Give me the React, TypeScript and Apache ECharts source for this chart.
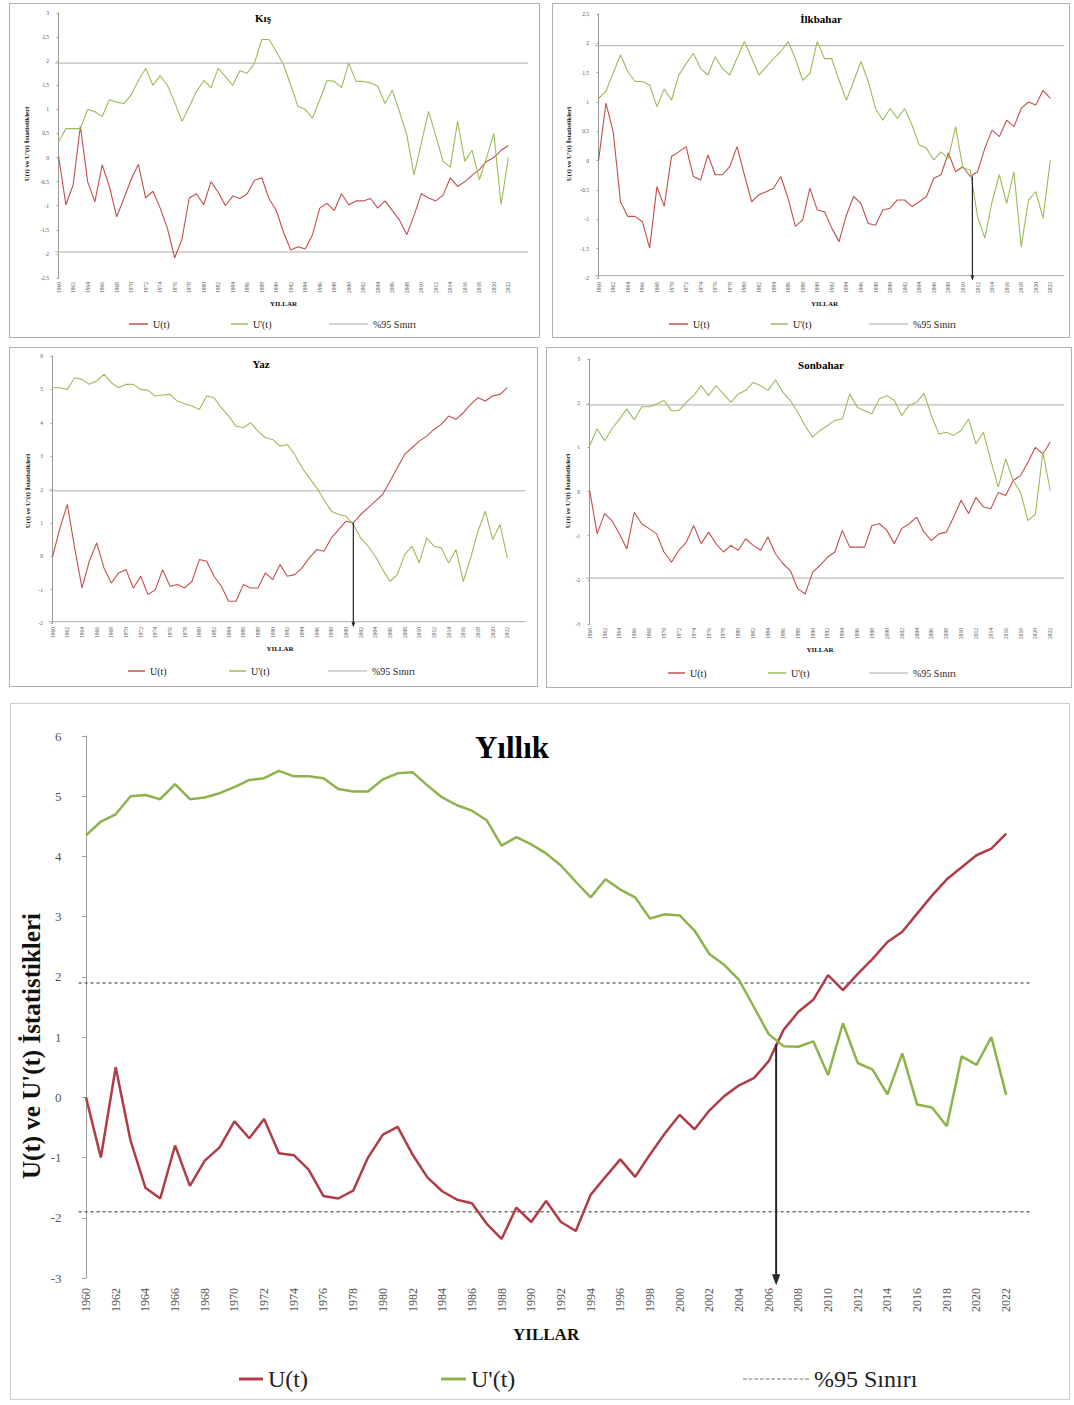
import React, { useEffect, useRef } from "react";
import * as echarts from "echarts";

const SERIF = "'Liberation Serif', 'Times New Roman', serif";

const YEARS = [
  "1960", "1961", "1962", "1963", "1964", "1965", "1966", "1967", "1968", "1969",
  "1970", "1971", "1972", "1973", "1974", "1975", "1976", "1977", "1978", "1979",
  "1980", "1981", "1982", "1983", "1984", "1985", "1986", "1987", "1988", "1989",
  "1990", "1991", "1992", "1993", "1994", "1995", "1996", "1997", "1998", "1999",
  "2000", "2001", "2002", "2003", "2004", "2005", "2006", "2007", "2008", "2009",
  "2010", "2011", "2012", "2013", "2014", "2015", "2016", "2017", "2018", "2019",
  "2020", "2021", "2022",
];

// Kış (winter)
const KIS_U = [
  0.02, -0.98, -0.57, 0.65, -0.5, -0.92, -0.15, -0.6, -1.23, -0.85,
  -0.45, -0.14, -0.84, -0.7, -1.05, -1.47, -2.08, -1.7, -0.84, -0.75,
  -0.98, -0.5, -0.72, -1.0, -0.8, -0.85, -0.75, -0.47, -0.42, -0.85,
  -1.1, -1.55, -1.92, -1.85, -1.9, -1.6, -1.05, -0.95, -1.1, -0.75,
  -0.98, -0.9, -0.9, -0.85, -1.05, -0.9, -1.1, -1.3, -1.6, -1.2,
  -0.75, -0.84, -0.9, -0.78, -0.42, -0.6, -0.5, -0.37, -0.25, -0.08,
  0.0, 0.15, 0.25,
];
const KIS_UP = [
  0.33, 0.6, 0.6, 0.6, 1.0, 0.95, 0.85, 1.2, 1.15, 1.12,
  1.3, 1.6, 1.85, 1.5, 1.7, 1.5, 1.15, 0.75, 1.05, 1.37,
  1.6, 1.45, 1.85, 1.68, 1.5, 1.8, 1.75, 1.96, 2.45, 2.45,
  2.2, 1.93, 1.5, 1.06, 1.0, 0.82, 1.2, 1.6, 1.58, 1.45,
  1.96, 1.58, 1.58, 1.55, 1.48, 1.12, 1.4, 0.95, 0.47, -0.36,
  0.3, 0.96, 0.45, -0.08, -0.2, 0.75, -0.08, 0.15, -0.46, 0.0,
  0.5, -0.98, 0.0,
];

// İlkbahar (spring)
const ILK_U = [
  0.01, 0.98, 0.49, -0.7, -0.95, -0.95, -1.04, -1.49, -0.44, -0.78,
  0.07, 0.15, 0.24, -0.27, -0.33, 0.1, -0.24, -0.24, -0.1, 0.24,
  -0.24, -0.7, -0.58, -0.53, -0.47, -0.27, -0.64, -1.12, -1.01, -0.47,
  -0.84, -0.87, -1.15, -1.38, -0.93, -0.61, -0.73, -1.07, -1.1, -0.84,
  -0.81, -0.67, -0.67, -0.78, -0.7, -0.61, -0.3, -0.24, 0.13, -0.19,
  -0.1, -0.27, -0.19, 0.21, 0.52, 0.41, 0.69, 0.58, 0.89, 1.0,
  0.95, 1.2, 1.06,
];
const ILK_UP = [
  1.06, 1.18, 1.5, 1.8, 1.52, 1.35, 1.35, 1.29, 0.92, 1.22,
  1.03, 1.46, 1.65, 1.83, 1.57, 1.46, 1.77, 1.57, 1.46, 1.75,
  2.03, 1.75, 1.46, 1.6, 1.74, 1.86, 2.03, 1.74, 1.37, 1.49,
  2.03, 1.74, 1.74, 1.37, 1.03, 1.35, 1.69, 1.35, 0.89, 0.69,
  0.89, 0.72, 0.89, 0.61, 0.27, 0.21, 0.01, 0.15, 0.04, 0.58,
  -0.13, -0.16, -0.95, -1.32, -0.7, -0.24, -0.73, -0.19, -1.47, -0.67,
  -0.53, -0.98, 0.01,
];

// Yaz (summer)
const YAZ_U = [
  0.0, 0.85, 1.55, 0.25, -0.95, -0.15, 0.4, -0.35, -0.8, -0.5,
  -0.4, -0.95, -0.6, -1.15, -1.0, -0.4, -0.9, -0.85, -0.95, -0.75,
  -0.1, -0.15, -0.6, -0.9, -1.35, -1.35, -0.85, -0.95, -0.95, -0.5,
  -0.7, -0.25, -0.6, -0.55, -0.35, -0.05, 0.2, 0.15, 0.55, 0.8,
  1.05, 1.0, 1.25, 1.45, 1.65, 1.85, 2.25, 2.65, 3.05, 3.25,
  3.45, 3.6, 3.8, 3.95, 4.2, 4.1, 4.3, 4.55, 4.75, 4.65,
  4.8, 4.85, 5.05,
];
const YAZ_UP = [
  5.05, 5.05, 5.0, 5.35, 5.3, 5.15, 5.25, 5.45, 5.2, 5.05,
  5.15, 5.15, 5.0, 4.97, 4.8, 4.83, 4.85, 4.65, 4.57, 4.5,
  4.4, 4.8, 4.75, 4.45, 4.2, 3.9, 3.85, 4.0, 3.75, 3.55,
  3.5, 3.3, 3.35, 3.05, 2.65, 2.35, 2.05, 1.7, 1.35, 1.25,
  1.2, 0.95, 0.55, 0.3, 0.0, -0.4, -0.75, -0.55, 0.05, 0.3,
  -0.2, 0.55, 0.3, 0.25, -0.2, 0.2, -0.75, -0.05, 0.75, 1.35,
  0.5, 0.95, -0.05,
];

// Sonbahar (autumn)
const SON_U = [
  0.02, -0.96, -0.5, -0.66, -0.96, -1.3, -0.47, -0.73, -0.84, -0.96,
  -1.37, -1.6, -1.33, -1.15, -0.77, -1.18, -0.92, -1.18, -1.37, -1.22,
  -1.33, -1.07, -1.22, -1.33, -1.03, -1.41, -1.63, -1.79, -2.2, -2.32,
  -1.83, -1.67, -1.49, -1.37, -0.88, -1.26, -1.26, -1.26, -0.77, -0.73,
  -0.88, -1.18, -0.84, -0.73, -0.58, -0.92, -1.11, -0.96, -0.92, -0.58,
  -0.2, -0.5, -0.13, -0.35, -0.39, -0.02, -0.09, 0.25, 0.36, 0.66,
  1.0, 0.85, 1.12,
];
const SON_UP = [
  1.04, 1.42, 1.15, 1.42, 1.64, 1.87, 1.62, 1.92, 1.92, 1.98,
  2.06, 1.83, 1.83, 2.02, 2.17, 2.4, 2.17, 2.4, 2.21, 2.02,
  2.21, 2.29, 2.47, 2.4, 2.29, 2.53, 2.25, 2.06, 1.8, 1.49,
  1.23, 1.38, 1.49, 1.61, 1.64, 2.21, 1.91, 1.83, 1.76, 2.1,
  2.17, 2.06, 1.72, 1.95, 2.02, 2.22, 1.72, 1.3, 1.34, 1.27,
  1.38, 1.64, 1.08, 1.34, 0.7, 0.1, 0.74, 0.25, -0.02, -0.66,
  -0.51, 0.89, 0.02,
];

// Yıllık (annual)
const ANNUAL_U = [
  0.0, -1.0, 0.5, -0.72, -1.5, -1.68, -0.8, -1.47, -1.05, -0.83,
  -0.4, -0.68, -0.36, -0.93, -0.96, -1.2, -1.64, -1.68, -1.55, -1.0,
  -0.62, -0.49, -0.95, -1.33, -1.56, -1.7, -1.76, -2.1, -2.35, -1.83,
  -2.07, -1.72, -2.07, -2.22, -1.62, -1.32, -1.03, -1.32, -0.95, -0.6,
  -0.29, -0.53, -0.22, 0.02, 0.2, 0.32, 0.6, 1.12, 1.42, 1.62,
  2.03, 1.78, 2.05, 2.3, 2.58, 2.75, 3.05, 3.35, 3.62, 3.82,
  4.02, 4.13, 4.38,
];
const ANNUAL_UP = [
  4.35, 4.58, 4.7, 5.0, 5.02, 4.95, 5.2, 4.95, 4.98, 5.05,
  5.15, 5.27, 5.3, 5.42, 5.33, 5.33, 5.3, 5.12, 5.08, 5.08,
  5.28, 5.38, 5.4, 5.18, 4.98, 4.85, 4.76, 4.6, 4.18, 4.32,
  4.2, 4.05, 3.85, 3.58, 3.32, 3.62, 3.45, 3.32, 2.97, 3.04,
  3.02, 2.77, 2.38, 2.2, 1.95, 1.5, 1.05, 0.85, 0.84, 0.93,
  0.37, 1.23, 0.57, 0.46, 0.05, 0.73, -0.12, -0.17, -0.48, 0.68,
  0.54, 1.0, 0.04,
];

const SERIES_NAMES = ["U(t)", "U'(t)", "%95 Sınırı"];
const Y_NAME = "U(t) ve U'(t) İstatistikleri";

// legend icon: a row of short dashes (for the dotted %95 line)
const DASH_ICON =
  "path://M0 0h4v1h-4zM6 0h4v1h-4zM12 0h4v1h-4zM18 0h4v1h-4zM24 0h4v1h-4zM30 0h4v1h-4zM36 0h4v1h-4zM42 0h4v1h-4zM48 0h4v1h-4zM54 0h4v1h-4zM60 0h4v1h-4zM66 0h4v1h-4z";

type Panel = {
  key: string;
  box: { left: number; top: number; width: number; height: number };
  border: string;
  title: { text: string; x: number; y: number; size: number };
  yName: { x: number; y: number; size: number };
  grid: { left: number; top: number; width: number; height: number };
  bandRight: number;
  yMin: number; yMax: number; yInterval: number;
  yLabelSize: number; yLabelMargin: number; tickLen: number;
  xLabelSize: number; xLabelMargin: number; xNameGap: number; xNameSize: number;
  u: number[]; up: number[];
  limit: number; limColor: string; limWidth: number; limType: any; limDashedIcon: boolean;
  lw: number; red: string; green: string;
  arrow: null | { pos: number; from: number; to: number; width: number; head: number };
  legend: { center: number; lefts: number[]; widths: number[]; fontSize: number; thick: number[] };
};

const SMALL_RED = "#c0504d";
const SMALL_GREEN = "#9bbb59";

const PANELS: Panel[] = [
  {
    key: "kis",
    box: { left: 9, top: 3, width: 531, height: 335 }, border: "#b0b0b0",
    title: { text: "Kış", x: 253, y: 14, size: 11 },
    yName: { x: 17, y: 140, size: 7 },
    grid: { left: 45, top: 9, width: 457, height: 265 }, bandRight: 518,
    yMin: -2.5, yMax: 3, yInterval: 0.5, yLabelSize: 5.5, yLabelMargin: 6, tickLen: 2,
    xLabelSize: 5.5, xLabelMargin: 4, xNameGap: 21, xNameSize: 7,
    u: KIS_U, up: KIS_UP, limit: 1.96, limColor: "#aaaaaa", limWidth: 1, limType: "solid", limDashedIcon: false,
    lw: 1.1, red: SMALL_RED, green: SMALL_GREEN, arrow: null,
    legend: { center: 320, lefts: [119, 221, 319], widths: [19, 17, 39], fontSize: 10, thick: [1.5, 1.5, 1] },
  },
  {
    key: "ilk",
    box: { left: 552, top: 3, width: 518, height: 335 }, border: "#b0b0b0",
    title: { text: "İlkbahar", x: 268, y: 15, size: 11 },
    yName: { x: 16, y: 140, size: 7 },
    grid: { left: 42, top: 10, width: 459, height: 264 }, bandRight: 511,
    yMin: -2, yMax: 2.5, yInterval: 0.5, yLabelSize: 5.5, yLabelMargin: 6, tickLen: 2,
    xLabelSize: 5.5, xLabelMargin: 4, xNameGap: 21, xNameSize: 7,
    u: ILK_U, up: ILK_UP, limit: 1.96, limColor: "#aaaaaa", limWidth: 1, limType: "solid", limDashedIcon: false,
    lw: 1.1, red: SMALL_RED, green: SMALL_GREEN,
    arrow: { pos: 51.3, from: -0.27, to: -2.0, width: 1.2, head: 5 },
    legend: { center: 320, lefts: [116, 218, 316], widths: [19, 17, 39], fontSize: 10, thick: [1.5, 1.5, 1] },
  },
  {
    key: "yaz",
    box: { left: 9, top: 347, width: 529, height: 340 }, border: "#b0b0b0",
    title: { text: "Yaz", x: 251, y: 16, size: 11 },
    yName: { x: 18, y: 143, size: 7 },
    grid: { left: 39, top: 8, width: 462, height: 267 }, bandRight: 515,
    yMin: -2, yMax: 6, yInterval: 1, yLabelSize: 5.5, yLabelMargin: 6, tickLen: 2,
    xLabelSize: 5.5, xLabelMargin: 4, xNameGap: 22, xNameSize: 7,
    u: YAZ_U, up: YAZ_UP, limit: 1.96, limColor: "#aaaaaa", limWidth: 1, limType: "solid", limDashedIcon: false,
    lw: 1.1, red: SMALL_RED, green: SMALL_GREEN,
    arrow: { pos: 41, from: 1.0, to: -2.05, width: 1.2, head: 5 },
    legend: { center: 323, lefts: [118, 219, 318], widths: [17, 17, 39], fontSize: 10, thick: [1.5, 1.5, 1] },
  },
  {
    key: "son",
    box: { left: 546, top: 347, width: 526, height: 341 }, border: "#b0b0b0",
    title: { text: "Sonbahar", x: 274, y: 17, size: 11 },
    yName: { x: 21, y: 143, size: 7 },
    grid: { left: 39, top: 11, width: 468, height: 265 }, bandRight: 517,
    yMin: -3, yMax: 3, yInterval: 1, yLabelSize: 5.5, yLabelMargin: 6, tickLen: 2,
    xLabelSize: 5.5, xLabelMargin: 4, xNameGap: 22, xNameSize: 7,
    u: SON_U, up: SON_UP, limit: 1.96, limColor: "#aaaaaa", limWidth: 1, limType: "solid", limDashedIcon: false,
    lw: 1.1, red: SMALL_RED, green: SMALL_GREEN, arrow: null,
    legend: { center: 325, lefts: [121, 221, 322], widths: [17, 18, 39], fontSize: 10, thick: [1.5, 1.5, 1] },
  },
  {
    key: "yillik",
    box: { left: 10, top: 703, width: 1060, height: 697 }, border: "#cfcfcf",
    title: { text: "Yıllık", x: 501, y: 43, size: 31 },
    yName: { x: 20, y: 342, size: 25 },
    grid: { left: 67.6, top: 32, width: 935, height: 542 }, bandRight: 1020,
    yMin: -3, yMax: 6, yInterval: 1, yLabelSize: 13, yLabelMargin: 17, tickLen: 4,
    xLabelSize: 12, xLabelMargin: 10, xNameGap: 48, xNameSize: 17,
    u: ANNUAL_U, up: ANNUAL_UP, limit: 1.9, limColor: "#707070", limWidth: 1.5, limType: [3, 3], limDashedIcon: true,
    lw: 2.5, red: "#b03c48", green: "#8fb24c",
    arrow: { pos: 46.5, from: 0.88, to: -3.03, width: 2, head: 11 },
    legend: { center: 675, lefts: [228, 430, 732], widths: [24, 25, 66], fontSize: 24, thick: [3, 3, 1.5] },
  },
];

function buildOption(p: Panel): any {
  const n = YEARS.length;
  const fmt = (v: number) => String(v).replace(".", ",");
  const series: any[] = [
    {
      name: SERIES_NAMES[0], type: "line", xAxisIndex: 0, yAxisIndex: 0, data: p.u,
      symbol: "none", lineStyle: { color: p.red, width: p.lw }, itemStyle: { color: p.red }, z: 3,
    },
    {
      name: SERIES_NAMES[1], type: "line", xAxisIndex: 0, yAxisIndex: 0, data: p.up,
      symbol: "none", lineStyle: { color: p.green, width: p.lw }, itemStyle: { color: p.green }, z: 3,
    },
    {
      name: SERIES_NAMES[2], type: "line", xAxisIndex: 2, yAxisIndex: 1,
      data: [[0, p.limit], [1, p.limit]], symbol: "none",
      lineStyle: { color: p.limColor, width: p.limWidth, type: p.limType }, itemStyle: { color: p.limColor }, z: 2,
    },
    {
      name: SERIES_NAMES[2], type: "line", xAxisIndex: 2, yAxisIndex: 1,
      data: [[0, -p.limit], [1, -p.limit]], symbol: "none",
      lineStyle: { color: p.limColor, width: p.limWidth, type: p.limType }, itemStyle: { color: p.limColor }, z: 2,
    },
  ];
  if (p.arrow) {
    const a = p.arrow;
    series.push({
      name: "arrow", type: "line", xAxisIndex: 1, yAxisIndex: 0, clip: false, silent: true, z: 5,
      showSymbol: true, symbol: "none",
      data: [
        { value: [a.pos, a.from], symbol: "none" },
        { value: [a.pos, a.to], symbol: "triangle", symbolSize: [a.head * 0.75, a.head], symbolRotate: 180 },
      ],
      lineStyle: { color: "#262626", width: a.width },
      itemStyle: { color: "#262626" },
    });
  }
  const lineBox = Math.max(p.legend.fontSize, ...p.legend.thick);
  return {
    animation: false,
    backgroundColor: "#ffffff",
    textStyle: { fontFamily: SERIF },
    grid: [
      { left: p.grid.left, top: p.grid.top, width: p.grid.width, height: p.grid.height },
      { left: p.grid.left, top: p.grid.top, width: p.bandRight - p.grid.left, height: p.grid.height },
    ],
    xAxis: [
      {
        type: "category", gridIndex: 0, data: YEARS, boundaryGap: true,
        axisLine: { show: false }, axisTick: { show: false }, splitLine: { show: false },
        axisLabel: { interval: 1, rotate: 90, fontSize: p.xLabelSize, color: "#555", margin: p.xLabelMargin, fontFamily: SERIF },
        name: "YILLAR", nameLocation: "middle", nameGap: p.xNameGap,
        nameTextStyle: { fontSize: p.xNameSize, fontWeight: "bold", color: "#111", fontFamily: SERIF },
      },
      { type: "value", gridIndex: 0, min: -0.5, max: n - 0.5, show: false },
      { type: "value", gridIndex: 1, min: 0, max: 1, show: false },
    ],
    yAxis: [
      {
        type: "value", gridIndex: 0, min: p.yMin, max: p.yMax, interval: p.yInterval,
        axisLine: { show: true, lineStyle: { color: "#9a9a9a", width: 1 } },
        axisTick: { show: true, length: p.tickLen, lineStyle: { color: "#9a9a9a" } },
        splitLine: { show: false },
        axisLabel: { fontSize: p.yLabelSize, color: "#555", margin: p.yLabelMargin, fontFamily: SERIF, formatter: fmt },
      },
      { type: "value", gridIndex: 1, min: p.yMin, max: p.yMax, show: false },
    ],
    legend: SERIES_NAMES.map((name, i) => ({
      data: [name],
      left: p.legend.lefts[i],
      top: p.legend.center - lineBox / 2,
      padding: 0,
      icon: i === 2 && p.limDashedIcon ? DASH_ICON : "rect",
      itemWidth: p.legend.widths[i],
      itemHeight: p.legend.thick[i],
      selectedMode: false,
      textStyle: { fontSize: p.legend.fontSize, fontFamily: SERIF, color: "#222" },
    })),
    graphic: [
      {
        type: "text", x: p.title.x, y: p.title.y, silent: true,
        style: {
          text: p.title.text, font: `bold ${p.title.size}px ${SERIF}`, fill: "#000",
          textAlign: "center", textVerticalAlign: "middle", align: "center", verticalAlign: "middle",
        },
      },
      {
        type: "text", x: p.yName.x, y: p.yName.y, rotation: Math.PI / 2, silent: true,
        style: {
          text: Y_NAME, font: `bold ${p.yName.size}px ${SERIF}`, fill: "#111",
          textAlign: "center", textVerticalAlign: "middle", align: "center", verticalAlign: "middle",
        },
      },
    ],
    series,
  };
}

function ChartBox({ panel }: { panel: Panel }) {
  const ref = useRef<HTMLDivElement>(null);
  useEffect(() => {
    if (!ref.current) return;
    const chart = echarts.init(ref.current, null, { renderer: "svg" });
    chart.setOption(buildOption(panel));
    return () => chart.dispose();
  }, [panel]);
  return (
    <div
      ref={ref}
      style={{
        position: "absolute",
        left: panel.box.left,
        top: panel.box.top,
        width: panel.box.width,
        height: panel.box.height,
        border: `1px solid ${panel.border}`,
        boxSizing: "border-box",
        background: "#fff",
      }}
    />
  );
}

export default function App() {
  return (
    <div style={{ position: "absolute", left: 0, top: 0, width: 1074, height: 1405, background: "#fff", overflow: "hidden" }}>
      {PANELS.map((p) => (
        <ChartBox key={p.key} panel={p} />
      ))}
    </div>
  );
}
